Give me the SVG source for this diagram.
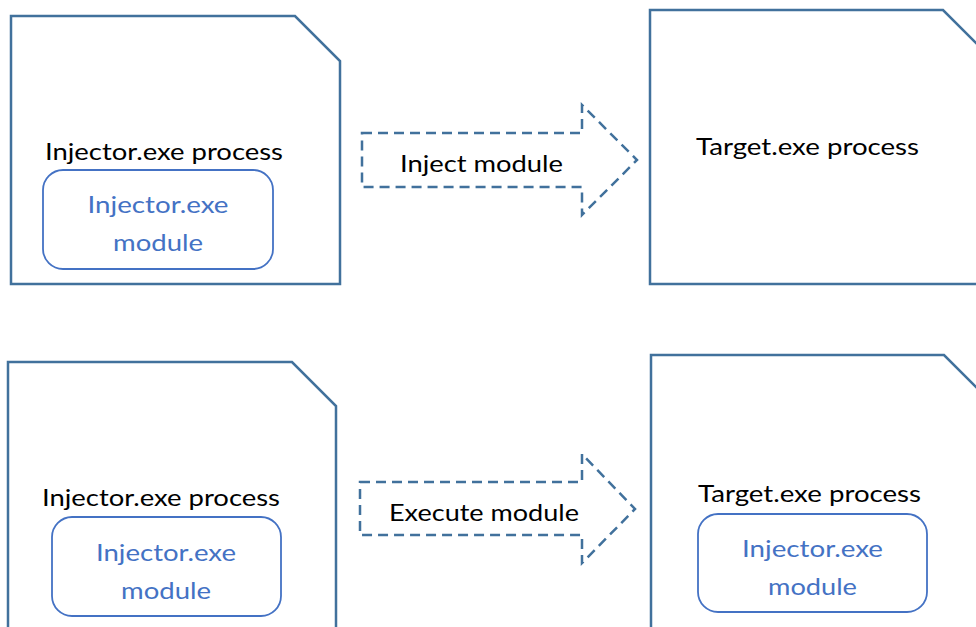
<svg xmlns="http://www.w3.org/2000/svg" width="976" height="627" viewBox="0 0 976 627">
<style>
.proc{fill:#fff;stroke:#41719C;stroke-width:2.5;stroke-linejoin:miter}
.mod{fill:#fff;stroke:#4472C4;stroke-width:1.8}
.arrow{fill:none;stroke:#41719C;stroke-width:2.5;stroke-dasharray:10 6}
.t{font-family:Lato,"Open Sans","Liberation Sans",sans-serif;font-size:24px;fill:#000;text-anchor:middle}
.b{fill:#4472C4}
</style>
<rect width="976" height="627" fill="#fff"/>
<g id="injector-process-top">
<path class="proc" d="M11,16 L295,16 L340,61 L340,284 L11,284 Z"/>
<text class="t" x="164" y="160" textLength="238" lengthAdjust="spacingAndGlyphs">Injector.exe process</text>
</g>
<g id="injector-module-top">
<rect class="mod" x="43" y="170" width="230" height="99" rx="20"/>
<text class="t b" x="158" y="213" textLength="141" lengthAdjust="spacingAndGlyphs">Injector.exe</text>
<text class="t b" x="158" y="251" textLength="90" lengthAdjust="spacingAndGlyphs">module</text>
</g>
<g id="target-process-top">
<path class="proc" d="M650,10 L943,10 L1000,67 L1000,284 L650,284 Z"/>
<text class="t" x="807.5" y="155" textLength="223" lengthAdjust="spacingAndGlyphs">Target.exe process</text>
</g>
<g id="injector-process-bottom">
<path class="proc" d="M8,362 L292,362 L336,406 L336,640 L8,640 Z"/>
<text class="t" x="161" y="506" textLength="238" lengthAdjust="spacingAndGlyphs">Injector.exe process</text>
</g>
<g id="injector-module-bottom">
<rect class="mod" x="52" y="517" width="229" height="99" rx="20"/>
<text class="t b" x="166" y="561" textLength="140" lengthAdjust="spacingAndGlyphs">Injector.exe</text>
<text class="t b" x="166" y="599" textLength="90" lengthAdjust="spacingAndGlyphs">module</text>
</g>
<g id="target-process-bottom">
<path class="proc" d="M651,355 L944,355 L1000,411 L1000,640 L651,640 Z"/>
<text class="t" x="809.5" y="502" textLength="223" lengthAdjust="spacingAndGlyphs">Target.exe process</text>
</g>
<g id="injector-module-in-target">
<rect class="mod" x="698" y="514" width="229" height="98" rx="20"/>
<text class="t b" x="812.5" y="557" textLength="141" lengthAdjust="spacingAndGlyphs">Injector.exe</text>
<text class="t b" x="812.5" y="595" textLength="89" lengthAdjust="spacingAndGlyphs">module</text>
</g>
<g id="connectors">
<g id="inject-arrow">
<path class="arrow" d="M362,133 L582,133 L582,105 L637,160 L582,215 L582,187 L362,187 Z"/>
<text class="t" x="481.5" y="172" textLength="163" lengthAdjust="spacingAndGlyphs">Inject module</text>
</g>
<g id="execute-arrow">
<path class="arrow" d="M360,482 L582,482 L582,454 L635,509 L582,563 L582,535 L360,535 Z"/>
<text class="t" x="484" y="521" textLength="190" lengthAdjust="spacingAndGlyphs">Execute module</text>
</g>
</g>
</svg>
